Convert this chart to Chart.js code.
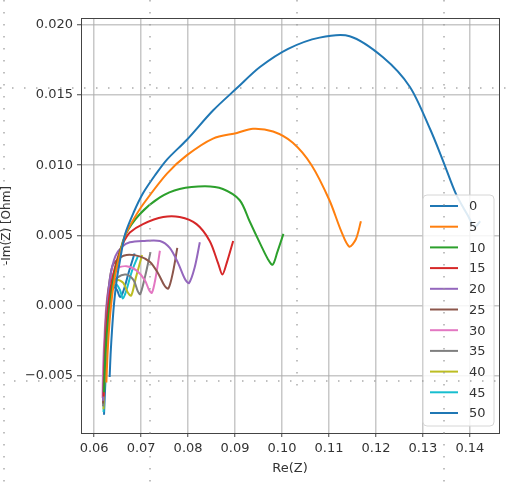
<!DOCTYPE html>
<html>
<head>
<meta charset="utf-8">
<script src="https://cdn.jsdelivr.net/npm/chart.js@4.4.1/dist/chart.umd.min.js"></script>
<style>
  body { margin: 0; background: #fff; }
  #wrap { width: 516px; height: 483px; }
</style>
</head>
<body>
<div id="wrap"><canvas id="nyquist" width="516" height="483"></canvas></div>
<script>
// series names (legend) and tick labels
const labels = ['0', '5', '10', '15', '20', '25', '30', '35', '40', '45', '50'];
const colors = ['#1f77b4', '#ff7f0e', '#2ca02c', '#d62728', '#9467bd', '#8c564b',
                '#e377c2', '#7f7f7f', '#bcbd22', '#17becf', '#1f77b4'];
const xTicks = [0.06, 0.07, 0.08, 0.09, 0.10, 0.11, 0.12, 0.13, 0.14];
const yTicks = [-0.005, 0.000, 0.005, 0.010, 0.015, 0.020];

// [Re(Z), -Im(Z)]
const curve0 = [[0.0633,-0.0051],[0.0635,-0.0035],[0.0638,-0.0018],[0.0642,0.0000],[0.0648,0.0018],
  [0.0656,0.0034],[0.0666,0.0051],[0.0685,0.0067],[0.0704,0.0080],[0.0730,0.0093],[0.0755,0.0104],
  [0.0797,0.0118],[0.0853,0.0139],[0.0904,0.0155],[0.0953,0.0170],[0.1013,0.0183],[0.1080,0.0191],
  [0.1144,0.0192],[0.1215,0.0177],[0.1272,0.0156],[0.1315,0.0126],[0.1343,0.0103],[0.1371,0.0079],
  [0.1396,0.0064],[0.1410,0.0056],[0.1422,0.0060]];
const curve5 = [[0.0626,-0.0055],[0.0628,-0.0038],[0.0631,-0.0020],[0.0636,0.0000],[0.0643,0.0018],
  [0.0653,0.0034],[0.0666,0.0050],[0.0685,0.0062],[0.0704,0.0072],[0.0755,0.0094],[0.0797,0.0107],
  [0.0853,0.0119],[0.0904,0.0123],[0.0938,0.0126],[0.0981,0.0124],[0.1023,0.0116],[0.1063,0.0100],
  [0.1101,0.0075],[0.1126,0.0053],[0.1143,0.0042],[0.1157,0.0047],[0.1168,0.0060]];
const curve10 = [[0.0621,-0.0062],[0.0623,-0.0042],[0.0627,-0.0020],[0.0633,0.0000],[0.0641,0.0018],
  [0.0652,0.0034],[0.0666,0.0050],[0.0697,0.0065],[0.0740,0.0077],[0.0782,0.0083],[0.0836,0.0085],
  [0.0874,0.0083],[0.0910,0.0075],[0.0931,0.0060],[0.0955,0.0043],[0.0970,0.0033],[0.0980,0.0029],
  [0.0990,0.0038],[0.1003,0.0051]];
const curve15 = [[0.0620,-0.0065],[0.0622,-0.0044],[0.0625,-0.0022],[0.0630,0.0000],[0.0638,0.0018],
  [0.0650,0.0034],[0.0664,0.0046],[0.0676,0.0052],[0.0704,0.0058],[0.0747,0.0063],[0.0782,0.0063],
  [0.0818,0.0058],[0.0846,0.0046],[0.0864,0.0030],[0.0873,0.0022],[0.0882,0.0030],[0.0896,0.0046]];
const curve20 = [[0.0619,-0.0068],[0.0621,-0.0046],[0.0624,-0.0022],[0.0628,0.0000],[0.0634,0.0020],
  [0.0645,0.0035],[0.0660,0.0042],[0.0676,0.0045],[0.0704,0.0046],[0.0740,0.0046],[0.0761,0.0041],
  [0.0779,0.0030],[0.0793,0.0019],[0.0802,0.0016],[0.0814,0.0027],[0.0825,0.0045]];
const curve25 = [[0.0619,-0.0070],[0.0621,-0.0048],[0.0623,-0.0024],[0.0627,0.0000],[0.0633,0.0018],
  [0.0640,0.0029],[0.0655,0.0034],[0.0669,0.0036],[0.0697,0.0035],[0.0719,0.0031],[0.0736,0.0023],
  [0.0750,0.0014],[0.0758,0.0012],[0.0768,0.0024],[0.0777,0.0041]];
const curve30 = [[0.0618,-0.0066],[0.0619,-0.0045],[0.0622,-0.0022],[0.0626,0.0000],[0.0633,0.0016],
  [0.0648,0.0026],[0.0669,0.0028],[0.0690,0.0025],[0.0708,0.0018],[0.0717,0.0011],[0.0723,0.0009],
  [0.0731,0.0020],[0.0740,0.0039]];
const curve35 = [[0.0619,-0.0072],[0.0621,-0.0048],[0.0624,-0.0024],[0.0628,0.0000],[0.0636,0.0014],
  [0.0650,0.0020],[0.0668,0.0022],[0.0684,0.0018],[0.0693,0.0010],[0.0698,0.0008],[0.0708,0.0020],
  [0.0720,0.0038]];
const curve40 = [[0.0620,-0.0074],[0.0622,-0.0050],[0.0625,-0.0025],[0.0629,0.0000],[0.0637,0.0013],
  [0.0650,0.0018],[0.0662,0.0016],[0.0672,0.0009],[0.0679,0.0007],[0.0689,0.0020],[0.0702,0.0036]];
const curve45 = [[0.0620,-0.0076],[0.0622,-0.0052],[0.0626,-0.0026],[0.0630,0.0000],[0.0637,0.0011],
  [0.0647,0.0015],[0.0655,0.0011],[0.0661,0.0005],[0.0668,0.0010],[0.0680,0.0024],[0.0693,0.0035]];
const curve50 = [[0.0621,-0.0078],[0.0624,-0.0054],[0.0628,-0.0028],[0.0632,0.0000],[0.0637,0.0010],
  [0.0644,0.0013],[0.0650,0.0010],[0.0655,0.0006],[0.0662,0.0010],[0.0674,0.0024],[0.0686,0.0037]];

const curves = [curve0, curve5, curve10, curve15, curve20, curve25, curve30, curve35, curve40, curve45, curve50];

const FONT = 'DejaVu Sans';
const TEXT = '#333';

// white legend box in the lower right corner, drawn over the lines like matplotlib does
const boxLegend = {
    id: 'boxLegend',
    afterDatasetsDraw(chart) {
        const ctx = chart.ctx;
        const x = 423, y = 195, w = 71, h = 231;
        ctx.save();
        ctx.beginPath();
        ctx.roundRect(x, y, w, h, 4);
        ctx.fillStyle = 'rgba(255,255,255,0.85)';
        ctx.fill();
        ctx.strokeStyle = '#d6d6d6';
        ctx.lineWidth = 1;
        ctx.stroke();
        ctx.font = '13px ' + FONT;
        ctx.textBaseline = 'middle';
        ctx.textAlign = 'left';
        chart.data.datasets.forEach((ds, i) => {
            const cy = 206 + i * 20.7;
            ctx.strokeStyle = ds.borderColor;
            ctx.lineWidth = 2;
            ctx.beginPath();
            ctx.moveTo(430, cy);
            ctx.lineTo(458, cy);
            ctx.stroke();
            ctx.fillStyle = TEXT;
            ctx.fillText(ds.label, 469, cy + 1);
        });
        ctx.restore();
    }
};

// top and right spines + the dotted guide lines that sit over the screenshot
const frame = {
    id: 'frame',
    afterDraw(chart) {
        const a = chart.chartArea;
        const ctx = chart.ctx;
        ctx.save();
        ctx.strokeStyle = '#444';
        ctx.lineWidth = 1;
        ctx.strokeRect(a.left + 0.5, a.top + 0.5, a.right - a.left, a.bottom - a.top);

        ctx.strokeStyle = 'rgba(150,150,150,0.8)';
        ctx.lineWidth = 1.5;
        ctx.setLineDash([1.5, 10.5]);
        const guides = [[4, 0, 4, 483], [150, 0, 150, 483], [297, 0, 297, 392], [444, 0, 444, 483],
                        [0, 88, 506, 88], [14, 381, 506, 381]];
        guides.forEach(g => {
            ctx.beginPath();
            ctx.moveTo(g[0], g[1]);
            ctx.lineTo(g[2], g[3]);
            ctx.stroke();
        });
        ctx.restore();
    }
};

const ctxNyq = document.getElementById('nyquist').getContext('2d');
new Chart(ctxNyq, {
    type: 'line',
    data: {
        datasets: curves.map((c, i) => ({
            label: labels[i],
            data: c.map(p => ({ x: p[0], y: p[1] })),
            borderColor: colors[i],
            borderWidth: 2,
            pointRadius: 0,
            tension: 0.3,
            fill: false
        }))
    },
    options: {
        responsive: false,
        animation: false,
        devicePixelRatio: 1,
        layout: { padding: { left: 0, top: 18, right: 17, bottom: 7 } },
        plugins: { legend: { display: false }, tooltip: { enabled: false } },
        scales: {
            x: {
                type: 'linear',
                min: 0.0572,
                max: 0.1462,
                afterBuildTicks: axis => { axis.ticks = xTicks.map(v => ({ value: v })); },
                afterFit: axis => { axis.height = 43; },
                ticks: {
                    callback: v => v.toFixed(2),
                    font: { family: FONT, size: 13 },
                    color: TEXT,
                    padding: 4,
                    maxRotation: 0
                },
                grid: { color: 'rgba(170,170,170,0.65)', lineWidth: 1.5, tickColor: '#444', tickLength: 4, tickWidth: 1 },
                border: { display: true, color: '#444', width: 1 },
                title: { display: true, text: 'Re(Z)', font: { family: FONT, size: 13 }, color: TEXT, padding: 0 }
            },
            y: {
                type: 'linear',
                min: -0.0091,
                max: 0.0205,
                afterBuildTicks: axis => { axis.ticks = yTicks.map(v => ({ value: v })); },
                afterFit: axis => { axis.width = 81; },
                ticks: {
                    callback: v => (v < 0 ? '\u2212' + Math.abs(v).toFixed(3) : v.toFixed(3)),
                    font: { family: FONT, size: 13 },
                    color: TEXT,
                    padding: 4
                },
                grid: { color: 'rgba(170,170,170,0.65)', lineWidth: 1.5, tickColor: '#444', tickLength: 4, tickWidth: 1 },
                border: { display: true, color: '#444', width: 1 },
                title: { display: true, text: '-Im(Z) [Ohm]', font: { family: FONT, size: 12 }, color: TEXT, padding: 0 }
            }
        }
    },
    plugins: [boxLegend, frame]
});
</script>
</body>
</html>
